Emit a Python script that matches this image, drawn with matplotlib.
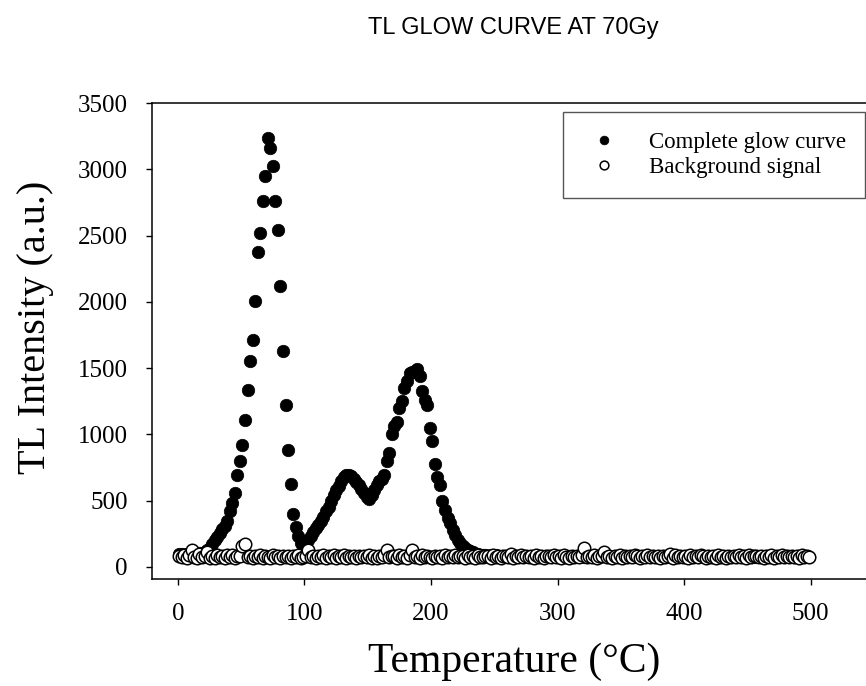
import numpy as np
import matplotlib
matplotlib.use("Agg")
import matplotlib.pyplot as plt

# ---------------- data ----------------
temperature = np.arange(1, 500, 2)  # measurement grid, deg C

glow_curve = [
    # T 1-19
    95, 96, 92, 94, 97, 100, 102, 101, 104, 108,
    # T 21-45
    112, 125, 145, 170, 200, 225, 255, 285, 310, 345, 420, 480, 560,
    # T 47-91
    690, 800, 917, 1110, 1336, 1550, 1710, 2003, 2376, 2519, 2764, 2950,
    3233, 3157, 3023, 2764, 2545, 2122, 1630, 1222, 884, 627, 398,
    # T 93-235
    300, 230, 180, 175, 185, 200, 230, 265, 295, 320,
    345, 375, 420, 455, 500, 545, 580, 610, 650, 675,
    690, 695, 685, 665, 640, 615, 590, 555, 525, 510,
    540, 580, 620, 645, 665, 690, 800, 860, 1000, 1060,
    1090, 1200, 1250, 1350, 1400, 1460, 1470, 1480, 1490, 1440,
    1330, 1260, 1220, 1050, 950, 780, 680, 620, 500, 430,
    370, 330, 280, 240, 205, 180, 160, 145, 130, 120,
    110, 100,
    # T 237-499
    95, 90, 88, 92, 85, 89, 84, 87, 83, 86,
    82, 85, 80, 84, 81, 79, 83, 78, 82, 80,
    84, 79, 81, 77, 83, 80, 78, 82, 76, 81,
    79, 83, 77, 80, 84, 78, 81, 76, 82, 79,
    80, 85, 78, 82, 77, 83, 79, 81, 76, 84,
    92, 78, 82, 77, 81, 79, 84, 76, 80, 83,
    78, 81, 77, 83, 79, 76, 82, 80, 78, 84,
    77, 81, 79, 83, 76, 80, 82, 78, 81, 77,
    83, 79, 76, 82, 80, 78, 84, 77, 81, 79,
    76, 82, 80, 78, 83, 77, 81, 79, 84, 76,
    80, 78, 82, 77, 81, 83, 79, 76, 82, 80,
    78, 84, 77, 81, 79, 83, 76, 80, 82, 78,
    81, 77, 83, 79, 80, 76, 82, 78, 84, 79,
    80, 78,
]

background_signal = [
    82, 75, 88, 70, 92, 130, 78, 68, 95, 72,
    85, 115, 70, 80, 66, 90, 74, 82, 69, 88,
    76, 92, 68, 84, 79, 160, 175, 72, 86, 70,
    80, 74, 90, 67, 83, 77, 71, 88, 73, 81,
    69, 86, 75, 79, 66, 84, 72, 90, 70, 78,
    82, 125, 73, 85, 68, 80, 76, 89, 71, 83,
    74, 87, 69, 81, 77, 92, 70, 84, 75, 79,
    68, 86, 73, 82, 78, 90, 71, 85, 67, 80,
    76, 88, 125, 72, 83, 79, 69, 91, 74, 82,
    70, 87, 125, 75, 80, 68, 89, 73, 84, 77,
    71, 86, 78, 82, 69, 90, 74, 81, 76, 88,
    72, 84, 79, 67, 91, 75, 83, 70, 87, 78,
    73, 85, 80, 68, 89, 76, 82, 71, 86, 79,
    74, 100, 69, 83, 77, 90, 72, 85, 78, 81,
    70, 88, 75, 82, 67, 86, 79, 73, 90, 76,
    84, 71, 87, 78, 69, 85, 74, 81, 77, 89,
    140, 72, 83, 76, 88, 70, 82, 79, 110, 74,
    86, 71, 80, 75, 89, 68, 84, 77, 82, 73,
    87, 79, 70, 85, 76, 90, 72, 83, 78, 81,
    69, 86, 74, 80, 100, 71, 88, 77, 83, 75,
    84, 70, 89, 76, 81, 73, 87, 79, 68, 85,
    77, 82, 71, 88, 75, 80, 69, 86, 78, 83,
    72, 87, 76, 81, 70, 89, 74, 84, 79, 73,
    85, 71, 82, 77, 88, 69, 83, 76, 90, 74,
    80, 72, 86, 78, 84, 70, 87, 75, 82, 76,
]

x_ticks = [0, 100, 200, 300, 400, 500]
y_ticks = [0, 500, 1000, 1500, 2000, 2500, 3000, 3500]

# ---------------- figure ----------------
W, H = 866, 686
fig = plt.figure(figsize=(W / 100, H / 100), dpi=100)
ax = fig.add_axes([152 / W, (H - 579) / H, (874 - 152) / W, (579 - 103) / H])

serif = "Liberation Serif"

ax.plot(temperature, glow_curve, "o", ms=9, mfc="black", mec="black",
        mew=0.5, label="Complete glow curve", zorder=2)
ax.plot(temperature, background_signal, "o", ms=9, mfc="white", mec="black",
        mew=1.1, label="Background signal", zorder=3)

ax.set_xlim(-20.5, 550)
ax.set_ylim(-91, 3500)
ax.set_xticks(x_ticks)
ax.set_yticks(y_ticks)
ax.tick_params(direction="out", length=4.3, width=1.0, labelsize=18, pad=13,
               top=False, right=False)
for lab in ax.get_xticklabels() + ax.get_yticklabels():
    lab.set_fontfamily(serif)
for s in ["left", "bottom", "top"]:
    ax.spines[s].set_linewidth(1.1)
ax.spines["right"].set_visible(False)

leg = ax.legend(loc="upper right", bbox_to_anchor=(865 / W, 1 - 112 / H),
                bbox_transform=fig.transFigure, prop={"family": serif, "size": 16.5},
                markerscale=0.7, frameon=True, fancybox=False, framealpha=1,
                edgecolor="#555555", borderpad=0.85, handletextpad=1.0,
                labelspacing=0.2, handlelength=1.88, borderaxespad=0)
leg.get_frame().set_linewidth(1.0)

fig.text(36 / W, 1 - 327 / H, "TL Intensity (a.u.)", rotation=90, ha="center",
         va="center", family=serif, size=29)
fig.text(514 / W, 1 - 662 / H, "Temperature (°C)", ha="center", va="center",
         family=serif, size=30)
fig.text(513 / W, 1 - 28 / H, "TL GLOW CURVE AT 70Gy", ha="center", va="center",
         family="Liberation Sans", size=17)

fig.savefig("out.png", dpi=100)
